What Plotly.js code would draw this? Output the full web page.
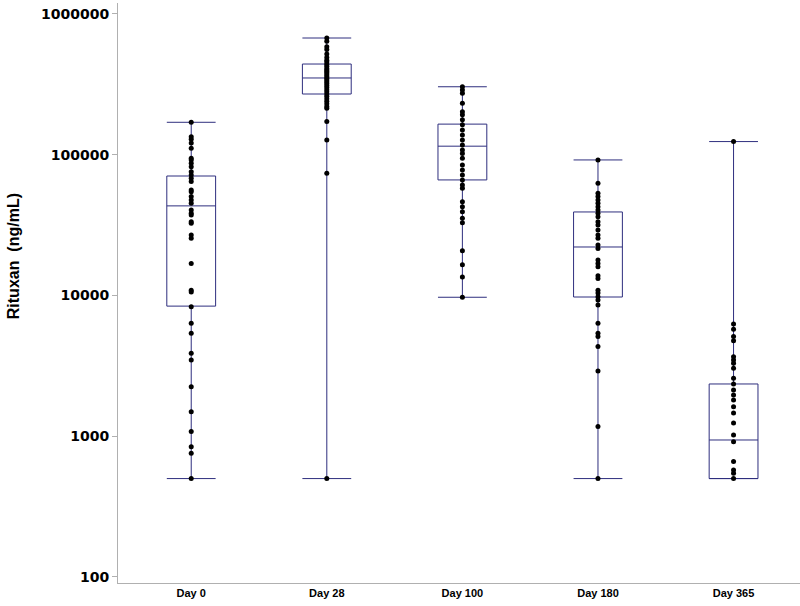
<!DOCTYPE html>
<html>
<head>
<meta charset="utf-8">
<script src="https://cdn.plot.ly/plotly-3.0.1.min.js"></script>
<style>html,body{margin:0;padding:0;background:#fff;} #chart{width:800px;height:606px;}</style>
</head>
<body>
<div id="chart"></div>
<script>
// Categories and tick labels
const categories = ["Day 0", "Day 28", "Day 100", "Day 180", "Day 365"];
const catIndex = [0, 1, 2, 3, 4];

// Box summary statistics (ng/mL)
const lowerFence = [500, 500, 9710, 500, 500];
const q1 = [8400, 270000, 66200, 9750, 500];
const median = [43300, 351000, 115000, 22100, 940];
const q3 = [70600, 441000, 165000, 39200, 2350];
const upperFence = [170000, 675000, 304000, 91800, 124000];

// Individual observations per visit (ng/mL)
const day0 = [170000, 134000, 129000, 121000, 111000, 94400, 91800, 86900, 82200, 75800, 71800, 68000, 64400, 56200, 54600, 50400, 47700, 45200, 40500, 38400, 37300, 33400, 32600, 26900, 25500, 16900, 10900, 10600, 8320, 6350, 5390, 3890, 3480, 2250, 1490, 1080, 843, 757, 500];
const day28 = [675000, 640000, 586000, 560000, 520000, 490000, 470000, 455000, 440000, 425000, 410000, 400000, 390000, 380000, 370000, 360000, 350000, 340000, 330000, 320000, 310000, 300000, 290000, 280000, 270000, 260000, 250000, 240000, 230000, 220000, 214000, 172000, 127000, 73800, 500];
const day100 = [304000, 288000, 273000, 232000, 202000, 192000, 177000, 163000, 150000, 138000, 127000, 117000, 108000, 102000, 94400, 84600, 77900, 71800, 66200, 61000, 57800, 46400, 42700, 39400, 35400, 32900, 20800, 16500, 13500, 9710];
const day180 = [91800, 62700, 53200, 50400, 47700, 45200, 42700, 40500, 38400, 36300, 33400, 31700, 29200, 26900, 25500, 22800, 21600, 17900, 16900, 16000, 13800, 13200, 10900, 10400, 9810, 9290, 8560, 6350, 5390, 5100, 4330, 2910, 1170, 500];
const day365 = [124000, 6270, 5750, 5100, 4770, 3670, 3480, 3300, 3040, 2580, 2350, 2130, 1960, 1810, 1620, 1460, 1240, 1020, 915, 660, 575, 545, 500];

const groups = [day0, day28, day100, day180, day365];
const ptsX = [], ptsY = [];
groups.forEach((g, i) => g.forEach(v => { ptsX.push(catIndex[i]); ptsY.push(v); }));

const boxColor = '#2e2e7e';
const sans = 'Liberation Sans';

const traces = [
  {
    type: 'box',
    x: catIndex,
    q1: q1, median: median, q3: q3,
    lowerfence: lowerFence, upperfence: upperFence,
    width: 0.36,
    whiskerwidth: 1,
    boxpoints: false,
    fillcolor: 'rgba(255,255,255,0)',
    line: {color: boxColor, width: 1},
    hoverinfo: 'skip',
    showlegend: false
  },
  {
    type: 'scatter',
    mode: 'markers',
    x: ptsX, y: ptsY,
    marker: {color: '#000000', size: 5},
    hoverinfo: 'skip',
    showlegend: false
  }
];

const layout = {
  width: 800, height: 606,
  margin: {l: 118, r: 0, t: 3, b: 23},
  paper_bgcolor: '#ffffff', plot_bgcolor: '#ffffff',
  showlegend: false,
  xaxis: {
    range: [-0.54, 4.49],
    tickvals: catIndex, ticktext: categories,
    ticks: '', showgrid: false, zeroline: false,
    showline: true, linecolor: '#b0b0b0', linewidth: 1,
    tickfont: {family: sans, size: 11, color: '#000', weight: 'bold'}
  },
  yaxis: {
    type: 'log',
    range: [1.957, 6.078],
    tickvals: [100, 1000, 10000, 100000, 1000000],
    ticktext: ['100', '1000', '10000', '100000', '1000000'],
    ticks: 'outside', ticklen: 5, tickcolor: '#b0b0b0',
    showgrid: false, zeroline: false,
    showline: true, linecolor: '#b0b0b0', linewidth: 1,
    tickfont: {family: 'DejaVu Sans', size: 14, color: '#000', weight: 'bold'}
  },
  annotations: [{
    text: 'Rituxan  (ng/mL)',
    xref: 'paper', yref: 'paper',
    x: -0.152, y: 0.564,
    xanchor: 'center', yanchor: 'middle',
    textangle: -90, showarrow: false,
    font: {family: sans, size: 16, color: '#000', weight: 'bold'}
  }]
};

Plotly.newPlot('chart', traces, layout, {displayModeBar: false, staticPlot: true});
</script>
</body>
</html>
